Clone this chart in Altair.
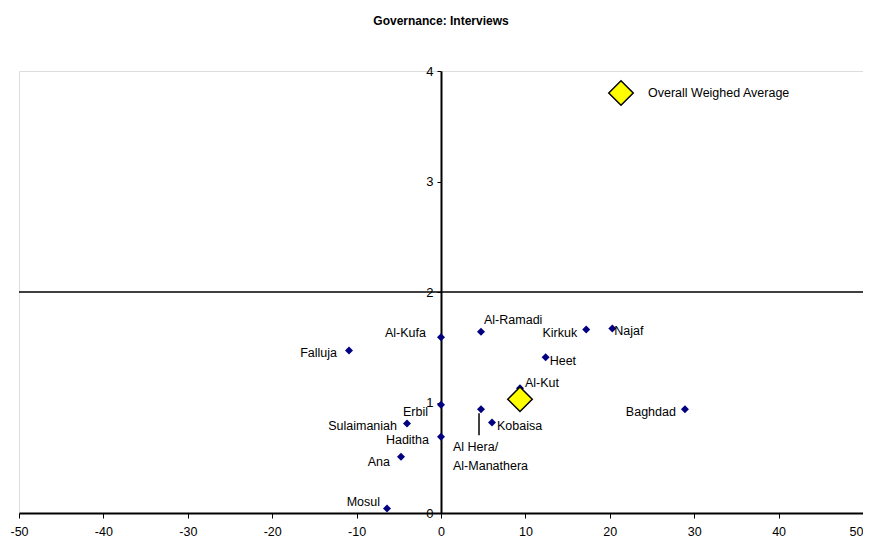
import altair as alt
import pandas as pd

# ---- data ----
names = ["Falluja", "Al-Kufa", "Al-Ramadi", "Kirkuk", "Najaf", "Heet", "Al-Kut",
         "Baghdad", "Erbil", "Al Hera/Al-Manathera", "Kobaisa", "Sulaimaniah",
         "Haditha", "Ana", "Mosul"]
labels = ["Falluja", "Al-Kufa", "Al-Ramadi", "Kirkuk", "Najaf", "Heet", "Al-Kut",
          "Baghdad", "Erbil", "Al Hera/\nAl-Manathera", "Kobaisa", "Sulaimaniah",
          "Haditha", "Ana", "Mosul"]
x_vals = [-10.9, 0.0, 4.74, 17.2, 20.3, 12.4, 9.36, 28.9, 0.0, 4.74, 6.04, -4.03, 0.0, -4.74, -6.4]
y_vals = [1.47, 1.59, 1.64, 1.66, 1.67, 1.41, 1.13, 0.94, 0.98, 0.94, 0.82, 0.81, 0.69, 0.51, 0.04]

avg_name = ["Overall Weighed Average"]
avg_x = [9.36]
avg_y = [1.03]

x_ticks = [-50, -40, -30, -20, -10, 0, 10, 20, 30, 40, 50]
y_ticks = [0, 1, 2, 3, 4]
ref_line_y = [2]

title_text = "Governance: Interviews"

# ---- label placement (align, dx, dy) ----
placement = {
    "Falluja": ("right", -12, 2),
    "Al-Kufa": ("right", -15, -4),
    "Al-Ramadi": ("left", 3, -12),
    "Kirkuk": ("right", -9, 3),
    "Najaf": ("left", 2, 3),
    "Heet": ("left", 4, 4),
    "Al-Kut": ("left", 5, -5),
    "Baghdad": ("right", -9, 3),
    "Erbil": ("right", -13, 7),
    "Al Hera/Al-Manathera": ("left", -28, 38),
    "Kobaisa": ("left", 5, 4),
    "Sulaimaniah": ("right", -10, 3),
    "Haditha": ("right", -12, 3),
    "Ana": ("right", -11, 5),
    "Mosul": ("right", -7, -7),
}

FONT = "Liberation Sans"

df = pd.DataFrame({"name": names, "label": labels, "x": x_vals, "y": y_vals})
avg_df = pd.DataFrame({"series": avg_name, "x": avg_x, "y": avg_y})
ref_df = pd.DataFrame({"y": ref_line_y})

xs = alt.Scale(domain=[x_ticks[0], x_ticks[-1]], nice=False, zero=False)
ys = alt.Scale(domain=[y_ticks[0], y_ticks[-1]], nice=False, zero=False)

x_axis = alt.Axis(values=x_ticks, labelExpr="'' + datum.value", title=None,
                  grid=False, domainColor="black", domainWidth=2,
                  tickColor="black", tickSize=5, tickWidth=1, labelFontSize=12.5,
                  labelPadding=7, labelFont=FONT, labelColor="black",
                  labelFlush=False,
                  labelAlign={"condition": {"test": "datum.value == %d" % x_ticks[-1],
                                            "value": "right"},
                              "value": "center"})
y_axis = alt.Axis(values=y_ticks, labelExpr="'' + datum.value", title=None,
                  grid=False, offset=-422, domainColor="black", domainWidth=2,
                  tickColor="black", tickSize=4, tickWidth=1, labelFontSize=13,
                  labelPadding=4, labelFont=FONT, labelColor="black",
                  labelFlush=False)

base = alt.Chart(df)

pts = base.mark_point(shape="diamond", filled=True, size=64, color="#000080",
                      opacity=1).encode(
    x=alt.X("x:Q", scale=xs, axis=x_axis),
    y=alt.Y("y:Q", scale=ys, axis=y_axis),
)

ref_rule = alt.Chart(ref_df).mark_rule(color="black", strokeWidth=1.5).encode(
    y=alt.Y("y:Q", scale=ys)
)

leader = base.transform_filter(alt.datum.name == "Al Hera/Al-Manathera").mark_rule(
    color="black", strokeWidth=1.5, xOffset=-2, yOffset=4, y2Offset=26
).encode(
    x=alt.X("x:Q", scale=xs),
    y=alt.Y("y:Q", scale=ys),
    y2="y:Q",
)

texts = []
for n in names:
    al, dx, dy = placement[n]
    texts.append(
        base.transform_filter(alt.datum.name == n).mark_text(
            align=al, dx=dx, dy=dy, baseline="middle", lineBreak="\n",
            lineHeight=19, font=FONT, fontSize=12.5, color="black"
        ).encode(
            x=alt.X("x:Q", scale=xs),
            y=alt.Y("y:Q", scale=ys),
            text="label:N",
        )
    )

avg = alt.Chart(avg_df).mark_point(shape="diamond", filled=True, size=600,
                                   stroke="black", strokeWidth=1.5,
                                   opacity=1).encode(
    x=alt.X("x:Q", scale=xs),
    y=alt.Y("y:Q", scale=ys),
    color=alt.Color("series:N",
                    scale=alt.Scale(domain=avg_name, range=["#FFFF00"]),
                    legend=alt.Legend(title=None, orient="none", legendX=589,
                                      legendY=9, symbolType="diamond",
                                      symbolSize=600, symbolStrokeColor="black",
                                      symbolStrokeWidth=1.5, symbolFillColor="#FFFF00",
                                      labelFontSize=12.5, labelFont=FONT,
                                      labelColor="black", labelOffset=14)),
)

chart = alt.layer(ref_rule, pts, leader, *texts, avg).properties(
    width=844,
    height=442,
    title=alt.TitleParams(title_text, font=FONT, fontSize=12, fontWeight="bold",
                          color="black", anchor="middle", offset=37),
    autosize=alt.AutoSizeParams(type="none"),
    padding={"left": 11, "top": 63, "right": 0, "bottom": 27},
).configure_view(
    stroke="#808080", strokeWidth=1.5
).configure(background="white")

chart.save("out.html", embed_options={"renderer": "svg", "actions": False})
